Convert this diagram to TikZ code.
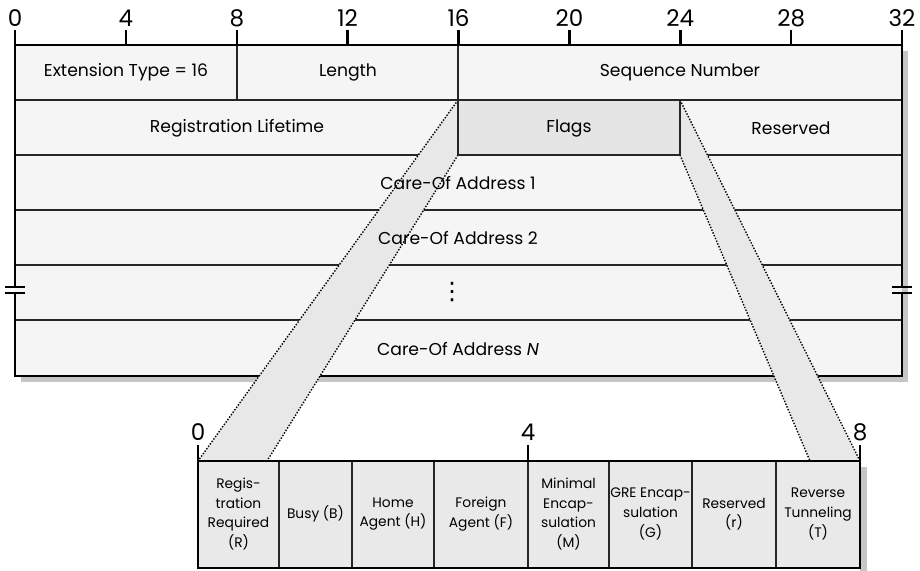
\documentclass[tikz,border=0pt]{standalone}
\usepackage{fontspec}
\setmainfont{Poppins}
\newfontfamily\symfont{DejaVu Sans}
\usepackage{xcolor}
\usetikzlibrary{positioning, calc}

\begin{document}
\begin{tikzpicture}[x=0.5pt, y=-0.5pt, thick]
        \tikzstyle{rowline} = [draw=black!85, line width=0.75pt]
        \tikzstyle{border} = [draw=black, line width=1.25pt]
        \tikzstyle{shade} = [fill=gray!45]
        \tikzstyle{funnel} = [draw=black, line width=0.7pt, dash pattern=on 0.7pt off 0.8pt]
        \tikzstyle{field} = [font=\fontsize{8.6}{10}\selectfont, inner sep=0pt]
        \tikzstyle{bit} = [font=\fontsize{11.5}{12}\selectfont, inner sep=0pt]
        \tikzstyle{flag} = [font=\fontsize{6.9}{9.8}\selectfont, align=center, inner sep=0pt]

        \useasboundingbox (0,0) rectangle (920,571);

        % header block
        \fill[shade] (21,51) rectangle (908,382);
        \fill[gray!8] (15,45) rectangle (902,376);
        \fill[gray!20] (458,100) rectangle (680,155);
        \foreach \y in {100,155,210,265,320}
            \draw[rowline] (15,\y) -- (902,\y);
        \draw[rowline] (237,45) -- (237,100);
        \draw[rowline] (458,45) -- (458,100);

        \foreach \b in {0,4,...,32} {
            \draw[border] ({15+\b*27.72},30) -- ({15+\b*27.72},45);
            \node[bit] (top\b) at ({15+\b*27.72},18) {\b};
        }
        \draw[border] (15,45) -- (902,45);
        \draw[border] (15,30) -- (15,287);
        \draw[border] (15,293) -- (15,376) -- (902,376) -- (902,293);
        \draw[border] (902,287) -- (902,30);
        \draw[border] (5,287) -- (25,287) (5,293) -- (25,293);
        \draw[border] (892,287) -- (912,287) (892,293) -- (912,293);

        % flags block
        \fill[shade] (860,467) rectangle (867,571);
        \fill[gray!17] (198,461) rectangle (860,568);

        \coordinate (flagTL) at (458,100);
        \coordinate (flagBL) at (458,155);
        \coordinate (flagTR) at (680,100);
        \coordinate (flagBR) at (680,155);
        \coordinate (bitsL) at (198,461);
        \coordinate (bitsLi) at (267,461);
        \coordinate (bitsR) at (860,461);
        \coordinate (bitsRi) at (810,461);

        % zoom band
        \fill[gray!18] (flagTL) -- (bitsL) -- (bitsLi) -- (flagBL) -- cycle;
        \fill[gray!18] (flagTR) -- (bitsR) -- (bitsRi) -- (flagBR) -- cycle;
        \draw[funnel] (flagTL) -- (bitsL) (flagBL) -- (bitsLi);
        \draw[funnel] (flagTR) -- (bitsR) (flagBR) -- (bitsRi);
        \draw[rowline] (flagTL) rectangle (flagBR);

        \node[field] (exttype) at (126,72) {Extension Type = 16};
        \node[field] (length) at (348,72) {Length};
        \node[field] (seqnum) at (680,72) {Sequence Number};
        \node[field] (lifetime) at (237,128) {Registration Lifetime};
        \node[field] (flags) at (569,128) {Flags};
        \node[field] (reserved) at (791,128) {Reserved};
        \node[field] (coa1) at (458,183) {Care-Of Address 1};
        \node[field] (coa2) at (458,238) {Care-Of Address 2};
        \node[field, font=\fontsize{12}{12}\selectfont] (dots) at (452,292) {\symfont ⋮};
        \node[field] (coaN) at (458,349) {Care-Of Address \textit{N}};

        \foreach \x in {279,352,434,528,609,692,776}
            \draw[rowline] (\x,461) -- (\x,568);
        \draw[border] (bitsL) rectangle (860,568);
        \foreach \b/\x in {0/198,4/528,8/860} {
            \draw[border] (\x,445) -- (\x,461);
            \node[bit] (low\b) at (\x,432) {\b};
        }

        \node[flag] (fR) at (238.5,514) {Regis-\\tration\\Required\\(R)};
        \node[flag] (fB) at (315.5,514) {Busy (B)};
        \node[flag] (fH) at (393,514) {Home\\Agent (H)};
        \node[flag] (fF) at (481,514) {Foreign\\Agent (F)};
        \node[flag] (fM) at (568.5,514) {Minimal\\Encap-\\sulation\\(M)};
        \node[flag] (fG) at (650.5,514) {GRE Encap-\\sulation\\(G)};
        \node[flag] (fr) at (734,514) {Reserved\\(r)};
        \node[flag] (fT) at (818,514) {Reverse\\Tunneling\\(T)};
    \end{tikzpicture}
\end{document}
